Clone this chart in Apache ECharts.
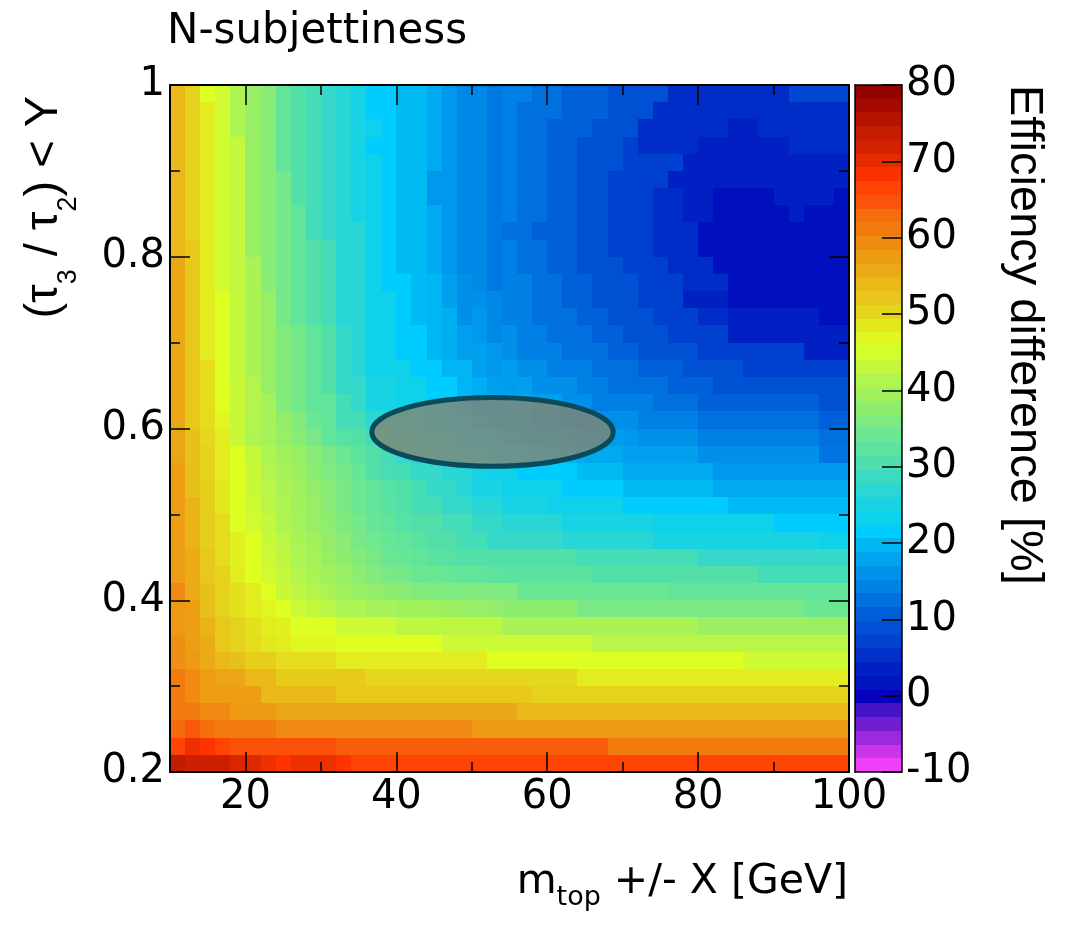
<!DOCTYPE html>
<html>
<head>
<meta charset="utf-8">
<title>N-subjettiness</title>
<script src="https://cdn.jsdelivr.net/npm/echarts@6.0.0/dist/echarts.min.js"></script>
<style>
  html, body { margin: 0; padding: 0; background: #ffffff; }
  #chart { width: 1065px; height: 932px; }
</style>
</head>
<body>
<div id="chart"></div>
<script>
// Bin centres of the scan: mass window X [GeV] and tau3/tau2 cut Y
const massBins = [11,13,15,17,19,21,23,25,27,29,31,33,35,37,39,41,43,45,47,49,51,53,55,57,59,61,63,65,67,69,71,73,75,77,79,81,83,85,87,89,91,93,95,97,99];
const ratioBins = [0.99,0.97,0.95,0.93,0.91,0.89,0.87,0.85,0.83,0.81,0.79,0.77,0.75,0.73,0.71,0.69,0.67,0.65,0.63,0.61,0.59,0.57,0.55,0.53,0.51,0.49,0.47,0.45,0.43,0.41,0.39,0.37,0.35,0.33,0.31,0.29,0.27,0.25,0.23,0.21];

// Efficiency difference [%], one row per ratio bin (same order as ratioBins), one value per mass bin
const effDiff = [
  [54,50.5,46,44.5,41,38.5,37,33,31,29.5,28,26.5,25,21.5,21.5,20,20,18.5,16.5,15,15,13.5,14,14,12.5,12.5,11,11,11,9,9,9,9,5,5,5,5,5,5,5,5,8,8,8,8],
  [54,50.5,48,44.5,41,38.5,37,33,31,29.5,28,26.5,25,21.5,21.5,20,20,18.5,16.5,15,15,13.5,14,12.5,12.5,12.5,11,11,11,9,9,9,5,5,5,5,5,5,5,5,5,5,5,5,5],
  [54,50.5,48,44.5,41,38.5,37,33,31,29.5,28,26.5,25,23.5,21.5,20,20,18.5,16.5,15,15,13.5,14,12.5,12.5,11,11,11,9,9,9,5,5,5,5,5,5,3.5,3.5,5,5,5,5,5,5],
  [54,50.5,48,44.5,43,38.5,37,33,31,29.5,28,26.5,25,21.5,21.5,20,20,18.5,16.5,15,15,13.5,14,12.5,12.5,11,11,9,9,9,7,5,5,5,5,3.5,3.5,3.5,3.5,3.5,3.5,5,5,5,5],
  [54,50.5,48,44.5,43,38.5,37,33,31,29.5,28,26.5,25,23.5,21.5,20,20,18.5,16.5,15,15,13.5,14,12.5,12.5,11,11,9,9,9,7,7,7,7,3.5,3.5,3.5,3.5,3.5,3.5,3.5,3.5,3.5,3.5,3.5],
  [54,50.5,48,44.5,43,38.5,37,35,31,29.5,28,26.5,25,23.5,21.5,20,20,16.5,16.5,15,15,13.5,14,12.5,12.5,11,11,9,9,7,7,7,7,3.5,3.5,3.5,3.5,3.5,3.5,3.5,3.5,3.5,3.5,3.5,3.5],
  [54,50.5,48,44.5,43,38.5,37,35,31,29.5,28,26.5,25,23.5,21.5,20,20,16.5,16.5,15,15,13.5,14,12.5,12.5,11,11,9,9,7,7,7,5,5,3.5,3.5,1,1,1,1,3.5,3.5,3.5,3.5,1],
  [54,50.5,48,44.5,43,38.5,37,35,33,29.5,28,26.5,25,23.5,21.5,20,20,18.5,16.5,15,15,13.5,14,12.5,12.5,11,11,9,9,7,7,7,5,5,3.5,3.5,1,1,1,1,1,3.5,1,1,1],
  [54,50.5,48,44.5,43,38.5,37,35,33,29.5,28,26.5,26.5,23.5,21.5,20,20,18.5,16.5,15,15,13.5,12.5,12.5,11,11,11,9,9,7,7,7,5,5,5,1,1,1,1,1,1,1,1,1,1],
  [54,52,48,44.5,43,38.5,37,35,33,31,29.5,26.5,26.5,23.5,21.5,20,20,18.5,16.5,15,15,13.5,14,12.5,12.5,11,11,9,9,7,7,7,5,5,5,1,1,1,1,1,1,1,1,1,1],
  [56,52,48,44.5,43,40.5,37,35,33,31,29.5,26.5,26.5,23.5,21.5,20,20,18.5,16.5,15,15,13.5,14,12.5,12.5,11,11,9,9,9,7,7,7,5,5,5,1,1,1,1,1,1,1,1,1],
  [56,52,48,44.5,43,40.5,37,35,33,31,29.5,26.5,26.5,23.5,21.5,21.5,20,19.5,17.5,16,15,13.5,14,14,12.5,12.5,11,11,9,9,9,7,7,7,5,5,5,1,1,1,1,1,1,1,1],
  [56,52,48,46,43,40.5,38.5,35,33,31,29.5,26.5,26.5,23.5,23.5,21.5,20,19.5,17.5,16,16,15,14,14,12.5,12.5,11,11,9,9,9,7,7,7,3.5,3.5,3.5,1,1,1,1,1,1,1,1],
  [56,52,48,46,43,40.5,38.5,35,33,31,29.5,26.5,26.5,23.5,23.5,21.5,20,19.5,19,16,16.5,15,14,14,12.5,12.5,12.5,11,11,9,9,9,7,7,7,5,5,3.5,3.5,3.5,3.5,3.5,3.5,1,1],
  [56,52,48,46,43,40.5,38.5,36.5,35,33,31,28,26.5,23.5,23.5,21.5,21.5,19.5,19,17.5,16.5,15,16,14,14,12.5,12.5,12.5,11,11,9,9,9,7,7,7,7,3.5,3.5,3.5,3.5,3.5,3.5,3.5,3.5],
  [56,52,48,46,43,40.5,38.5,36.5,35,33,31,28,26.5,23.5,23.5,21.5,21.5,19.5,19,17.5,17.5,16.5,16,14,14,14,12.5,12.5,12.5,11,11,9,9,9,9,7,7,7,7,7,7,7,3.5,3.5,3.5],
  [56,52,49.5,46,43,40.5,38.5,36.5,35,33,31,28,26.5,23.5,23.5,23.5,21.5,21.5,19.5,19.5,17.5,16.5,17,16,16,14,14,14,12.5,12.5,12.5,11,11,11,9,9,9,9,7,7,7,7,7,7,7],
  [56,52,49.5,46,43.5,41.5,38.5,36.5,35,33,31,28,28,25,25,23.5,23.5,21.5,21.5,19.5,19,17.5,17,17.5,16,16,16,14,14,12.5,12.5,12.5,12.5,11,11,11,9,9,9,9,9,9,9,9,9],
  [56,52,49.5,46,43.5,41.5,40,36.5,35,33,33,29.5,28,25,25,23.5,23.5,21.5,21.5,20,19,18.5,18.5,18.5,17.5,17.5,16,16,14,14,14,14,12.5,12.5,12.5,11,11,11,11,11,11,11,11,9,9],
  [56,52,49.5,47,43.5,41.5,40,38,36.5,34,33,29.5,29.5,27,26,25,23.5,23,21.5,21,20,19,18.5,18.5,17.5,17.5,16,16,16,16,16,14,14,14,14,12.5,12.5,12.5,12.5,12.5,12.5,12.5,12.5,11,11],
  [56,53,50,48,43.5,41,40,38.5,37,35.5,33,31.5,31,29.5,28,26.5,25.5,25,23.5,23,21.5,21,20,19.5,19,18.5,18,17.5,17.5,17,16.5,16,16,16,16,14,14,14,14,14,14,14,14,12.5,12.5],
  [56,53,50.5,48,46,43,41,39.5,38.5,37,35.5,34,32.5,31,29.5,28,27,26,25,24,23.5,22.5,21.5,21,20.5,20,19.5,18.5,18.5,18.5,17.5,17.5,17.5,17.5,17.5,16,16,16,16,16,16,16,16,13,13],
  [57,53,50.5,48,46,43.5,41.5,40,39,37.5,36,35,33.5,31,30,29.5,28,28,26.5,26.5,25,23.5,23.5,21.5,21.5,21.5,21.5,20,20,20,18.5,18.5,18.5,18.5,18.5,18.5,16.5,16.5,16.5,16.5,16.5,16.5,16.5,16.5,16.5],
  [57,53,51,48.5,46,43.5,42,40.5,39.5,38,37,35.5,34,33,31.5,31,29.5,28,28,26.5,25,25,23.5,23.5,23.5,23.5,21.5,21.5,21.5,21.5,20,20,20,20,20,20,18.5,18.5,18.5,18.5,18.5,18.5,18.5,18.5,18.5],
  [57,54.5,51,48.5,46,44,42,41,39.5,38.5,37,35.5,34,33,32,31,29.5,29.5,28,28,26.5,26.5,25,25,25,23.5,23.5,23.5,23.5,23.5,21.5,21.5,21.5,21.5,21.5,21.5,21.5,20,20,20,20,20,20,20,20],
  [57,54.5,51,49.5,46,44.5,43,41,40,38.5,37.5,36,35,33.5,33,31.5,31,31,29.5,29.5,28,28,26.5,26.5,26.5,26.5,25,25,25,25,25,25,23.5,23.5,23.5,23.5,23.5,23.5,23.5,23.5,21.5,21.5,21.5,21.5,21.5],
  [57,54.5,51,49.5,47.5,46,43.5,42,40.5,39.5,38,37,35.5,34.5,33.5,33,32,31,31,29.5,29.5,28,28,28,28,28,26.5,26.5,26.5,26.5,26.5,26.5,25,25,25,25,25,25,25,25,25,25,25,23.5,23.5],
  [57,55.5,52,49.5,47.5,46,44,42.5,41,40,38.5,37.5,36.5,35.5,34,33.5,33,32,31.5,31,31,31,31,31,31,31,31,29.5,29.5,29.5,29.5,29.5,29.5,29.5,29.5,28,28,28,28,28,28,28,28,28,28],
  [57,55.5,52,50.5,48,46,44.5,43,41.5,40.5,39.5,38.5,37.5,36.5,35.5,35,34,34,33.5,33,33,32.5,32,32,32,32,32,32,31,31,31,31,31,31,31,31,31,31,31,29.5,29.5,29.5,29.5,29.5,29.5],
  [59.5,55.5,53,50.5,49,48,46,43.5,42.5,41.5,40.5,39.5,38.5,38,37.5,37,36.5,36,36,36,36,36,36,34,34,34,34,34,34,34,34,34,34,33,33,33,33,33,33,33,33,33,33,33,33],
  [58,57,53,50.5,49,48,47,46,44,43,42,41,41,40,40,39.5,39.5,39.5,39,38.5,38.5,38,37.5,37.5,37.5,37.5,37.5,35.5,35.5,35.5,35.5,35.5,35.5,35.5,35.5,35.5,35.5,35.5,35.5,35.5,35.5,35.5,34,34,34],
  [58,57,54.5,52,50.5,49,48,47.5,46,46,46,44,44,44,44,42.5,42.5,42.5,42.5,42.5,42.5,42.5,40.5,40.5,40.5,40.5,40.5,40.5,40.5,40.5,40.5,40.5,40.5,40.5,40.5,39,39,39,39,39,39,39,39,39,39],
  [59,57,55.5,52,50.5,49.5,48.5,48,47,47,47,46,46,46,46,46,46,46,44,44,44,44,44,44,44,44,44,44,42,42,42,42,42,42,42,42,42,42,42,42,42,42,42,42,42],
  [59,58,55.5,54,53,51,51,49.5,49.5,49.5,49.5,48,48,48,48,48,48,48,48,48,48,46,46,46,46,46,46,46,46,46,46,46,46,46,46,46,46,46,44,44,44,44,44,44,44],
  [61,59.5,57,56,56,54,54,51.5,51.5,51.5,51.5,51.5,51.5,50,50,50,50,50,50,50,50,50,50,50,50,50,50,48,48,48,48,48,48,48,48,48,48,48,48,48,48,48,48,48,48],
  [61,59.5,57,57,57,57,54,54,54,54,54,52,52,52,52,52,52,52,52,52,52,52,52,52,50.5,50.5,50.5,50.5,50.5,50.5,50.5,50.5,50.5,50.5,50.5,50.5,50.5,50.5,50.5,50.5,50.5,50.5,50.5,50.5,50.5],
  [61,61,59.5,59.5,58,58,58,56,56,56,56,56,56,56,56,56,56,56,56,56,56,56,56,54,54,54,54,54,54,54,54,54,54,54,54,54,54,54,54,54,54,54,54,54,54],
  [63,64.5,62.5,61,61,61,61,59.5,59.5,59.5,59.5,59.5,59.5,59.5,59.5,59.5,59.5,59.5,59.5,59.5,58,58,58,58,58,58,58,58,58,58,58,58,58,58,58,58,58,58,58,58,58,58,58,58,58],
  [66.5,69.5,68,66.5,65,65,65,65,65,65,65,64,64,64,64,64,64,64,64,64,64,64,64,64,64,64,64,64,64,61,61,61,61,61,61,61,61,61,61,61,61,61,61,61,61],
  [74,72.5,72.5,72.5,71,70.5,69.5,68,69.5,69.5,69.5,68,66.5,66.5,66.5,66.5,66.5,66.5,66.5,66.5,66.5,66.5,66.5,66.5,66.5,66.5,66.5,66.5,66.5,66.5,66.5,66.5,66.5,66.5,66.5,66.5,66.5,66.5,66.5,66.5,66.5,66.5,66.5,66.5,66.5]
];

// Axis tick labels
const xTickLabels = [20, 40, 60, 80, 100];
const yTickLabels = [0.2, 0.4, 0.6, 0.8, 1];
const zTickLabels = [-10, 0, 10, 20, 30, 40, 50, 60, 70, 80];

// Range of the colour scale and its number of contour levels
const zRange = [-10, 80];
const zLevels = 50;

// Working point marked on the scan (centre and half-axes in data units)
const workingPoint = { mass: 52.75, ratio: 0.596, halfMass: 16, halfRatio: 0.04 };

// ---------------------------------------------------------------------------
// Colour palette: anchor colours along the scale, sampled finely for visualMap
const paletteStops = [
  [-10,'#ff44ff'],[-8,'#dc3af0'],[-6,'#a82ce0'],[-4,'#7820d2'],[-2,'#4614c6'],[0,'#0400bc'],
  [1,'#0010be'],[3.5,'#0020c4'],[5.3,'#0030c8'],[7,'#0040ce'],[9,'#0050d4'],[11,'#0060da'],
  [12.5,'#0070de'],[13.5,'#0078e2'],[14,'#0080e4'],[15,'#0088e6'],[16,'#0090ea'],[16.5,'#0098ec'],
  [17.5,'#00a0ee'],[18.5,'#00aaf0'],[20,'#00baf4'],[21.5,'#00ccff'],[23.5,'#10d1ea'],[25,'#18d3e4'],
  [26.5,'#28d6d6'],[28,'#35d8c9'],[29.5,'#45dcb8'],[31,'#52e0a8'],[33,'#62e49a'],[34,'#6be794'],
  [35.5,'#7ae985'],[37,'#88ec76'],[38.5,'#98ee64'],[40,'#a5f25a'],[41,'#aef452'],[42.5,'#bef741'],
  [44,'#ccfa34'],[46,'#ddff22'],[48,'#e2ec1e'],[49.5,'#e4dc1d'],[50.5,'#e5d21c'],[52,'#e8c81a'],
  [53,'#e8c01a'],[54,'#eab818'],[56,'#eba616'],[57,'#ee9e14'],[58,'#ee9a14'],[59.5,'#f08a12'],
  [61,'#f27c10'],[63,'#f56c0c'],[65,'#fa5008'],[66.5,'#ff4406'],[68,'#ff3300'],[69.5,'#ee3000'],
  [70.5,'#e02800'],[72,'#d02000'],[74,'#c21c00'],[77,'#a80a00'],[80,'#8b0000']
];
function hexRgb(h) { return [1, 3, 5].map(i => parseInt(h.slice(i, i + 2), 16)); }
function paletteAt(v) {
  for (let i = 1; i < paletteStops.length; i++) {
    const [v1, c1] = paletteStops[i];
    if (v <= v1 || i === paletteStops.length - 1) {
      const [v0, c0] = paletteStops[i - 1];
      const t = Math.max(0, Math.min(1, (v - v0) / (v1 - v0)));
      const a = hexRgb(c0), b = hexRgb(c1);
      return 'rgb(' + a.map((x, k) => Math.round(x + (b[k] - x) * t)).join(',') + ')';
    }
  }
}
const ramp = [];
for (let v = zRange[0]; v <= zRange[1] + 1e-9; v += 0.5) ramp.push(paletteAt(v));

// Cells [mass, ratio, value]
const cells = [];
ratioBins.forEach((r, i) => massBins.forEach((m, j) => cells.push([m, r, effDiff[i][j]])));
const halfMassBin = (massBins[1] - massBins[0]) / 2;
const halfRatioBin = Math.abs(ratioBins[0] - ratioBins[1]) / 2;

// Colour bar bands [low, high, centre]
const zStep = (zRange[1] - zRange[0]) / zLevels;
const zBands = [];
for (let k = 0; k < zLevels; k++) {
  const lo = zRange[0] + k * zStep;
  zBands.push([lo, lo + zStep, lo + zStep / 2]);
}

// Rectangle between two pixel corners, snapped to whole pixels so neighbours share edges
function snappedRect(a, b, color) {
  const x0 = Math.round(Math.min(a[0], b[0])), x1 = Math.round(Math.max(a[0], b[0]));
  const y0 = Math.round(Math.min(a[1], b[1])), y1 = Math.round(Math.max(a[1], b[1]));
  return { type: 'rect', shape: { x: x0, y: y0, width: x1 - x0, height: y1 - y0 },
           style: { fill: color } };
}

// ---------------------------------------------------------------------------
const black = '#000000';
const labelFont = 'DejaVu Sans';
const titleFont = 'Liberation Sans';

function lineAxis(extra) {
  return Object.assign({
    type: 'value', z: 6, splitLine: { show: false },
    axisLine: { show: true, onZero: false, lineStyle: { color: black, width: 2 } },
    axisTick: { show: false }, axisLabel: { show: false }, minorTick: { show: false }
  }, extra);
}
const majorTick = { show: true, inside: true, length: 20, lineStyle: { color: black, width: 1.5 } };
const minorTickStyle = { show: true, inside: true, length: 10, lineStyle: { color: black, width: 1.5 } };
const noLine = { show: false };

// Multi-run text (for subscripts), laid out on a shared baseline at local y = 0
const measureCtx = document.createElement('canvas').getContext('2d');
const MID_TO_BASELINE = 0.35;
function textRuns(runs, family) {
  let x = 0;
  const children = [];
  runs.forEach(r => {
    const font = r.size + 'px "' + family + '"';
    measureCtx.font = font;
    children.push({
      type: 'text', x: x, y: (r.dy || 0) - MID_TO_BASELINE * r.size, silent: true,
      style: { text: r.text, font: font, fill: black, align: 'left', verticalAlign: 'middle',
               textAlign: 'left', textVerticalAlign: 'middle' }
    });
    x += measureCtx.measureText(r.text).width;
  });
  return { children, width: x };
}

const titleRuns = textRuns([{ text: 'N-subjettiness', size: 42 }], labelFont);
const xTitleRuns = textRuns([
  { text: 'm', size: 41 }, { text: 'top', size: 27, dy: 10 }, { text: ' +/- X [GeV]', size: 41 }
], labelFont);
const yTitleRuns = textRuns([
  { text: '(τ', size: 47 }, { text: '3', size: 27, dy: 18 }, { text: ' / τ', size: 47 },
  { text: '2', size: 27, dy: 18 }, { text: ') < Y', size: 47 }
], titleFont);
const zTitleRuns = textRuns([{ text: 'Efficiency difference [%]', size: 47 }], titleFont);

const chart = echarts.init(document.getElementById('chart'), null, { renderer: 'canvas' });
chart.setOption({
  animation: false,
  backgroundColor: '#ffffff',
  grid: [
    { left: 170, top: 85, width: 679, height: 687, containLabel: false, outerBoundsMode: 'none' },
    { left: 855, top: 85, width: 47, height: 687, containLabel: false, outerBoundsMode: 'none' }
  ],
  xAxis: [
    lineAxis({ gridIndex: 0, position: 'bottom', min: 10, max: 100, splitNumber: 5,
      axisTick: majorTick,
      axisLabel: { show: true, margin: 6, color: black, fontFamily: labelFont, fontSize: 40,
        formatter: v => (xTickLabels.indexOf(v) >= 0 ? String(v) : '') } }),
    lineAxis({ gridIndex: 0, position: 'bottom', min: 10, max: 100, interval: 10,
      axisLine: noLine, axisTick: minorTickStyle }),
    lineAxis({ gridIndex: 0, position: 'top', min: 10, max: 100, splitNumber: 5, axisTick: majorTick }),
    lineAxis({ gridIndex: 0, position: 'top', min: 10, max: 100, interval: 10,
      axisLine: noLine, axisTick: minorTickStyle }),
    lineAxis({ gridIndex: 1, position: 'bottom', min: 0, max: 1,
      axisLine: { show: true, onZero: false, lineStyle: { color: black, width: 1.5 } } }),
    lineAxis({ gridIndex: 1, position: 'top', min: 0, max: 1,
      axisLine: { show: true, onZero: false, lineStyle: { color: black, width: 1.5 } } })
  ],
  yAxis: [
    lineAxis({ gridIndex: 0, position: 'left', min: 0.2, max: 1, interval: 0.2,
      axisTick: majorTick,
      minorTick: { show: true, splitNumber: 2, length: 10, lineStyle: { color: black, width: 1.5 } },
      axisLabel: { show: true, margin: 5, color: black, fontFamily: labelFont, fontSize: 40,
        formatter: v => { const t = yTickLabels.find(u => Math.abs(u - v) < 1e-9); return t === undefined ? '' : String(t); } } }),
    lineAxis({ gridIndex: 0, position: 'right', min: 0.2, max: 1, interval: 0.2,
      axisTick: majorTick,
      minorTick: { show: true, splitNumber: 2, length: 10, lineStyle: { color: black, width: 1.5 } } }),
    lineAxis({ gridIndex: 1, position: 'left', min: zRange[0], max: zRange[1],
      axisLine: { show: true, onZero: false, lineStyle: { color: black, width: 1.5 } } }),
    lineAxis({ gridIndex: 1, position: 'right', min: zRange[0], max: zRange[1], interval: 10,
      axisLine: { show: true, onZero: false, lineStyle: { color: black, width: 1.5 } },
      axisTick: majorTick,
      axisLabel: { show: true, margin: 4, color: black, fontFamily: labelFont, fontSize: 40,
        formatter: v => (zTickLabels.indexOf(v) >= 0 ? String(v) : '') } })
  ],
  visualMap: [{
    type: 'continuous', show: false, min: zRange[0], max: zRange[1], dimension: 2,
    seriesIndex: [0, 1], inRange: { color: ramp }
  }],
  series: [
    {
      type: 'custom', name: 'efficiency difference', xAxisIndex: 0, yAxisIndex: 0,
      data: cells, silent: true, z: 2,
      renderItem: (params, api) => {
        const x = api.value(0), y = api.value(1);
        return snappedRect(api.coord([x - halfMassBin, y + halfRatioBin]),
                           api.coord([x + halfMassBin, y - halfRatioBin]), api.visual('color'));
      }
    },
    {
      type: 'custom', name: 'colour scale', xAxisIndex: 4, yAxisIndex: 3,
      data: zBands, silent: true, z: 2,
      renderItem: (params, api) => snappedRect(api.coord([0, api.value(1)]),
                                               api.coord([1, api.value(0)]), api.visual('color'))
    },
    {
      type: 'custom', name: 'working point', xAxisIndex: 0, yAxisIndex: 0,
      data: [[workingPoint.mass, workingPoint.ratio]], silent: true, z: 4,
      renderItem: (params, api) => {
        const c = api.coord([api.value(0), api.value(1)]);
        const s = api.size([workingPoint.halfMass, workingPoint.halfRatio]);
        return { type: 'ellipse', shape: { cx: c[0], cy: c[1], rx: s[0], ry: s[1] },
                 style: { fill: 'rgba(134,132,112,0.78)', stroke: '#0b4a5a', lineWidth: 5 } };
      }
    }
  ],
  graphic: { elements: [
    { type: 'group', x: 167, y: 47, children: titleRuns.children },
    { type: 'group', x: 848 - xTitleRuns.width, y: 897, children: xTitleRuns.children },
    { type: 'group', x: 60, y: 96 + yTitleRuns.width, rotation: Math.PI / 2, children: yTitleRuns.children },
    { type: 'group', x: 1008, y: 85, rotation: -Math.PI / 2, children: zTitleRuns.children }
  ] }
});
</script>
</body>
</html>
